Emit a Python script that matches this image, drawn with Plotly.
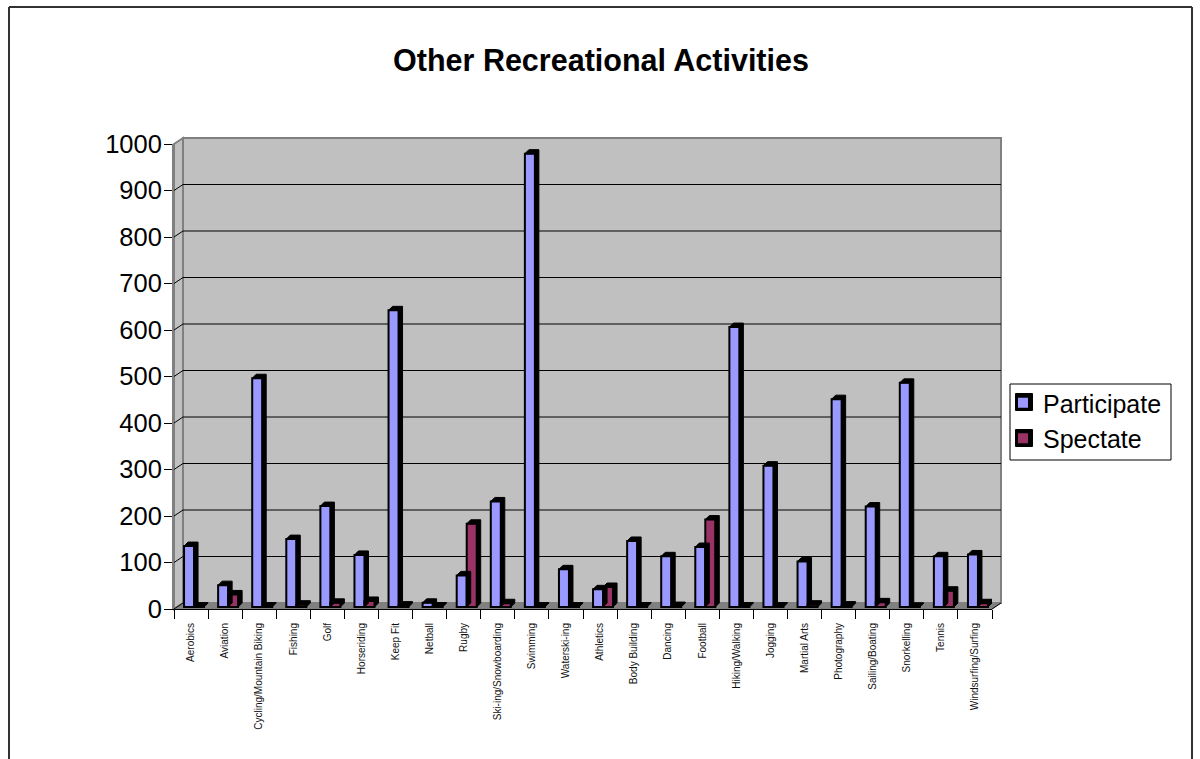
import plotly.graph_objects as go

categories = ["Aerobics","Aviation","Cycling/Mountain Biking","Fishing","Golf","Horseriding","Keep Fit","Netball","Rugby","Ski-ing/Snowboarding","Swimming","Waterski-ing","Athletics","Body Building","Dancing","Football","Hiking/Walking","Jogging","Martial Arts","Photography","Sailing/Boating","Snorkelling","Tennis","Windsurfing/Surfing"]
participate = [131,47,492,146,217,112,638,9,68,227,975,81,38,142,109,129,602,304,98,447,216,482,109,113]
spectate = [1,27,1,5,9,13,3,1,179,8,1,1,43,1,2,188,1,1,5,3,10,0.5,35,8]
y_ticks = [0,100,200,300,400,500,600,700,800,900,1000]

W, H = 1200, 759
L, R, T, B = 174, 992, 144, 609
DX, DY = 9, 6
cat_px = (R - L) / len(categories)
val_px = (B - T) / 1000
px = lambda v: v / W
py = lambda v: 1 - v / H
bar_w = 10 / cat_px
depth_x = 4 / cat_px
depth_y = 4 / val_px
base = 2 / val_px
shift = 3 / cat_px
starts = {"p": 0.5 - bar_w + shift, "s": 0.5 + shift}

def depth(vals, start):
    xs, ys = [], []
    for i, v in enumerate(vals):
        x0 = i + start; x1 = x0 + bar_w; t = base + v; b = base
        xs += [x0, x0 + depth_x, x1 + depth_x, x1 + depth_x, x1, x1, x0, None]
        ys += [t, t + depth_y, t + depth_y, b + depth_y, b, t, t, None]
    return go.Scatter(x=xs, y=ys, mode="lines", fill="toself", fillcolor="black",
                      line=dict(color="black", width=1), showlegend=False,
                      hoverinfo="skip", cliponaxis=False)

def bar(name, vals, start, color):
    return go.Bar(name=name, x=[i + start for i in range(len(vals))], y=vals, base=base,
                  width=bar_w, offset=0, marker=dict(color=color, line=dict(color="black", width=2)))

fig = go.Figure()
fig.add_trace(depth(participate, starts["p"]))
fig.add_trace(bar("Participate", participate, starts["p"], "#9999FF"))
fig.add_trace(depth(spectate, starts["s"]))
fig.add_trace(bar("Spectate", spectate, starts["s"], "#993366"))

def pline(x0, y0, x1, y1, color="black", width=1, layer="below", dash=None):
    return dict(type="line", xref="paper", yref="paper", x0=px(x0), y0=py(y0), x1=px(x1), y1=py(y1),
                line=dict(color=color, width=width, dash=dash), layer=layer)

def ppath(points, fill, line="#808080", width=1):
    d = "M " + " L ".join(f"{px(a)},{py(b)}" for a, b in points) + " Z"
    return dict(type="path", xref="paper", yref="paper", path=d, fillcolor=fill,
                line=dict(color=line, width=width), layer="below")

shapes = [
    ppath([(L+DX, T-DY), (R+DX, T-DY), (R+DX, B-DY), (L+DX, B-DY)], "#C0C0C0", "#808080", 2),
    ppath([(L, T), (L+DX, T-DY), (L+DX, B-DY), (L, B)], "#C0C0C0", "#808080", 2),
    ppath([(L, B), (L+DX, B-DY), (R+DX, B-DY), (R, B)], "#808080", "#808080", 1),
]
for v in y_ticks[1:-1]:
    y = B - v * val_px
    shapes.append(pline(L+DX, y-DY, R+DX, y-DY, "black", 1))
    shapes.append(pline(L, y, L+DX, y-DY, "black", 1))
shapes.append(pline(R, B, R+DX, B-DY, "black", 1))
shapes.append(pline(L, B, L+DX, B-DY, "black", 1))
# chart frame, open at the bottom of the page
shapes += [pline(9, 7, 1192, 7, "#333333", 2), pline(9, 7, 9, 770, "#333333", 2), pline(1192, 7, 1192, 770, "#333333", 2)]
# legend box and heavy swatch surrounds behind the native legend
shapes.append(ppath([(1010, 384), (1171, 384), (1171, 460), (1010, 460)], "white", "black", 1))
for cy in (402, 438):
    shapes.append(ppath([(1015.5, cy-8.5), (1032.5, cy-8.5), (1032.5, cy+8.5), (1015.5, cy+8.5)], "black", "black", 1))

fig.update_layout(
    width=W, height=H, margin=dict(l=0, r=0, t=0, b=0, autoexpand=False),
    paper_bgcolor="white", plot_bgcolor="rgba(0,0,0,0)",
    font=dict(family="Liberation Sans, Arial, sans-serif", color="black"),
    title=dict(text="<b>Other Recreational Activities</b>", x=601/W, xanchor="center", y=py(60), yanchor="middle",
               font=dict(size=30.5, color="black")),
    barmode="overlay", shapes=shapes,
    legend=dict(x=px(1003), y=py(380), xanchor="left", yanchor="top", bgcolor="rgba(0,0,0,0)",
                borderwidth=0, font=dict(size=25), traceorder="normal",
                itemclick=False, itemdoubleclick=False),
    xaxis=dict(domain=[px(L), px(R)], range=[0, len(categories)], tickmode="array",
               tickvals=[i + 0.5 for i in range(len(categories))], ticktext=categories,
               tickangle=-90, tickfont=dict(size=10, color="#111111"), ticks="", ticklabelstandoff=9,
               showgrid=False, zeroline=False,
               showline=True, linecolor="black", linewidth=1, automargin=False,
               minor=dict(tickmode="array", tickvals=list(range(len(categories) + 1)), ticks="outside",
                          ticklen=9, tickcolor="black", tickwidth=1, showgrid=False)),
    yaxis=dict(domain=[py(B), py(T)], range=[0, 1000], tickmode="array", tickvals=y_ticks,
               tickfont=dict(size=25.5), ticks="outside", ticklen=8, tickcolor="black", tickwidth=1,
               ticklabelstandoff=-3,
               showgrid=False, zeroline=False, showline=True, linecolor="#808080", linewidth=2,
               automargin=False),
)
fig.write_html("out.html", config=dict(displayModeBar=False), post_script="document.body.style.margin='0';")
